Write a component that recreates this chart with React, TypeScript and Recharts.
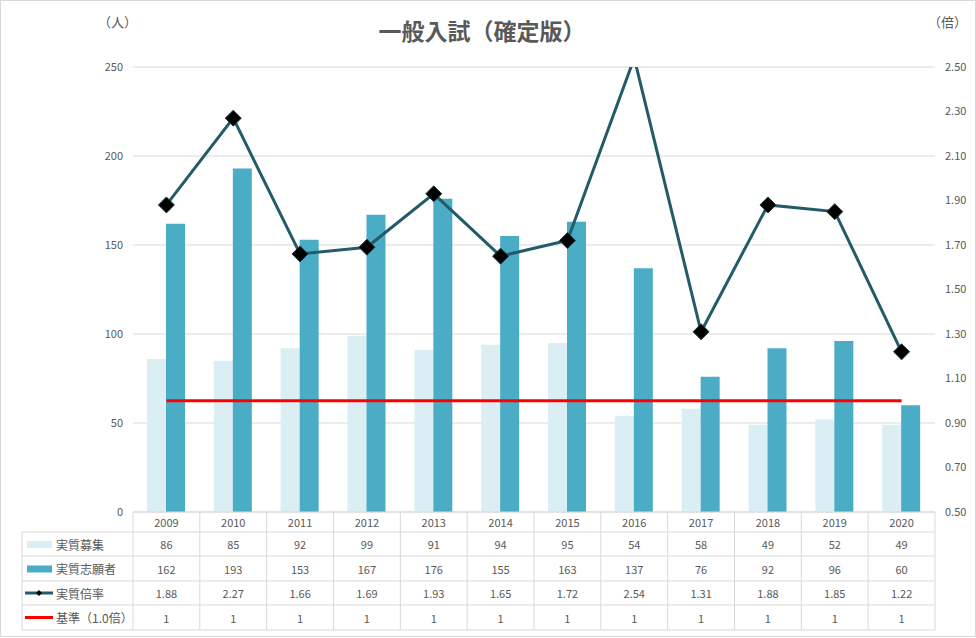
import React from 'react'
import { ComposedChart, Bar, Line, XAxis, YAxis, CartesianGrid } from 'recharts'

const years = ['2009', '2010', '2011', '2012', '2013', '2014', '2015', '2016', '2017', '2018', '2019', '2020']
const recruit = [86, 85, 92, 99, 91, 94, 95, 54, 58, 49, 52, 49]
const applicants = [162, 193, 153, 167, 176, 155, 163, 137, 76, 92, 96, 60]
const ratio = [1.88, 2.27, 1.66, 1.69, 1.93, 1.65, 1.72, 2.54, 1.31, 1.88, 1.85, 1.22]
const base = [1, 1, 1, 1, 1, 1, 1, 1, 1, 1, 1, 1]

const leftTicks = [0, 50, 100, 150, 200, 250]
const rightTicks = [0.5, 0.7, 0.9, 1.1, 1.3, 1.5, 1.7, 1.9, 2.1, 2.3, 2.5]

const seriesNames = ['実質募集', '実質志願者', '実質倍率', '基準（1.0倍）']

const data = years.map((year, i) => ({
  year,
  recruit: recruit[i],
  applicants: applicants[i],
  ratio: ratio[i],
  base: base[i],
}))

const FONT = '"Noto Sans CJK JP", "Noto Sans", sans-serif'
const TEXT = '#595959'
const BORDER = '#d9d9d9'
const C_LIGHT = '#daeef3'
const C_TEAL = '#4bacc6'
const C_LINE = '#235b69'
const C_RED = '#ff0000'

const PLOT_LEFT = 133
const PLOT_RIGHT = 935
const BAND = (PLOT_RIGHT - PLOT_LEFT) / years.length
// row boundaries below the x axis, relative to the axis line
const ROWS = [0, 20, 44, 69, 93, 118]

const Diamond = (props: any) => {
  const { cx, cy, value } = props
  if (cx == null || cy == null || value > 2.5) return <g />
  const s = 8
  return (
    <path
      d={`M${cx},${cy - s} L${cx + s},${cy} L${cx},${cy + s} L${cx - s},${cy} Z`}
      fill="#000"
      stroke="#1a3a40"
      strokeWidth={1}
    />
  )
}

const rowValues = [recruit, applicants, ratio, base]

const TableTick = (props: any) => {
  const { x, y, payload } = props
  const i = payload.index
  const half = BAND / 2
  const l = x - half
  const r = x + half
  const rowMid = (k: number) => y + (ROWS[k] + ROWS[k + 1]) / 2
  const txt = { fontFamily: FONT, fontSize: 11, fill: TEXT }
  return (
    <g>
      {i === 0 && <line x1={l} y1={y} x2={l} y2={y + ROWS[5]} stroke={BORDER} />}
      <line x1={r} y1={y} x2={r} y2={y + ROWS[5]} stroke={BORDER} />
      {ROWS.slice(1).map((ry) => (
        <line key={ry} x1={l} y1={y + ry} x2={r} y2={y + ry} stroke={BORDER} />
      ))}
      <text x={x} y={rowMid(0)} textAnchor="middle" dominantBaseline="central" {...txt}>
        {payload.value}
      </text>
      {rowValues.map((vals, k) => (
        <text key={k} x={x} y={rowMid(k + 1)} textAnchor="middle" dominantBaseline="central" {...txt}>
          {k === 2 ? vals[i].toFixed(2) : vals[i]}
        </text>
      ))}
      {i === 0 && <LegendColumn right={l} y={y} rowMid={rowMid} />}
    </g>
  )
}

const LegendColumn = ({ right, y, rowMid }: { right: number; y: number; rowMid: (k: number) => number }) => {
  const left = 22
  const sx = 25
  const sw = 28
  return (
    <g>
      <line x1={left} y1={y + ROWS[1]} x2={left} y2={y + ROWS[5]} stroke={BORDER} />
      {ROWS.slice(1).map((ry) => (
        <line key={ry} x1={left} y1={y + ry} x2={right} y2={y + ry} stroke={BORDER} />
      ))}
      <rect x={27} y={rowMid(1) - 3} width={25} height={7} fill={C_LIGHT} />
      <rect x={27} y={rowMid(2) - 3} width={25} height={7} fill={C_TEAL} />
      <line x1={sx} y1={rowMid(3)} x2={sx + sw} y2={rowMid(3)} stroke={C_LINE} strokeWidth={3} />
      <path
        d={`M39,${rowMid(3) - 3} L42,${rowMid(3)} L39,${rowMid(3) + 3} L36,${rowMid(3)} Z`}
        fill="#000"
      />
      <line x1={sx} y1={rowMid(4)} x2={sx + sw} y2={rowMid(4)} stroke={C_RED} strokeWidth={3} />
      {seriesNames.map((n, k) => (
        <text
          key={n}
          x={56}
          y={rowMid(k + 1)}
          dominantBaseline="central"
          fontFamily={FONT}
          fontSize={12}
          fill={TEXT}
        >
          {n}
        </text>
      ))}
    </g>
  )
}

export default function App() {
  return (
    <div
      style={{
        position: 'absolute',
        left: 0,
        top: 0,
        width: 976,
        height: 638,
        background: '#fff',
        fontFamily: FONT,
      }}
    >
      <div
        style={{
          position: 'absolute',
          left: 0,
          top: 0,
          width: 976,
          height: 637,
          boxSizing: 'border-box',
          border: `1px solid ${BORDER}`,
        }}
      />
      <div
        style={{
          position: 'absolute',
          left: 0,
          width: 964,
          top: 13,
          textAlign: 'center',
          fontSize: 23,
          fontWeight: 'bold',
          color: TEXT,
        }}
      >
        一般入試（確定版）
      </div>
      <div style={{ position: 'absolute', left: 98, top: 12, fontSize: 13, color: TEXT }}>（人）</div>
      <div style={{ position: 'absolute', left: 928, top: 12, fontSize: 13, color: TEXT }}>（倍）</div>
      <div style={{ position: 'absolute', left: 0, top: 0 }}>
        <ComposedChart
          width={976}
          height={638}
          data={data}
          margin={{ top: 67, right: 1, bottom: 8, left: 73 }}
          barGap={0}
        >
          <CartesianGrid yAxisId="left" vertical={false} stroke={BORDER} />
          <XAxis
            dataKey="year"
            height={118}
            interval={0}
            tickLine={false}
            tickSize={0}
            tickMargin={0}
            stroke={BORDER}
            tick={<TableTick />}
          />
          <YAxis
            yAxisId="left"
            width={60}
            domain={[0, 250]}
            ticks={leftTicks}
            axisLine={false}
            tickLine={false}
            tickMargin={4}
            tick={{ fontFamily: FONT, fontSize: 11, fill: TEXT }}
          />
          <YAxis
            yAxisId="right"
            orientation="right"
            width={40}
            domain={[0.5, 2.5]}
            ticks={rightTicks}
            allowDataOverflow
            axisLine={false}
            tickLine={false}
            tickMargin={4}
            tickFormatter={(v: number) => v.toFixed(2)}
            tick={{ fontFamily: FONT, fontSize: 11, fill: TEXT }}
          />
          <Bar yAxisId="left" dataKey="recruit" fill={C_LIGHT} barSize={19} isAnimationActive={false} />
          <Bar yAxisId="left" dataKey="applicants" fill={C_TEAL} barSize={19} isAnimationActive={false} />
          <Line
            yAxisId="right"
            dataKey="base"
            stroke={C_RED}
            strokeWidth={3}
            dot={false}
            isAnimationActive={false}
          />
          <Line
            yAxisId="right"
            dataKey="ratio"
            stroke={C_LINE}
            strokeWidth={3}
            dot={<Diamond />}
            isAnimationActive={false}
          />
        </ComposedChart>
      </div>
    </div>
  )
}
